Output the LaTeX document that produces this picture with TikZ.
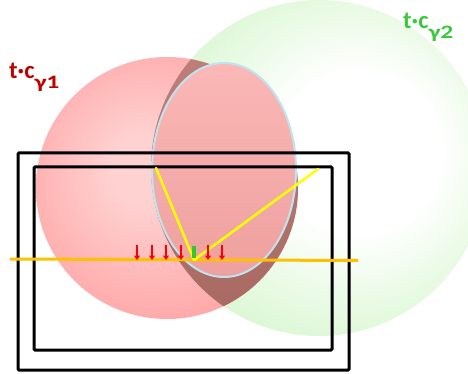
\documentclass[tikz,border=0pt]{standalone}
\usepackage{fontspec}
\usepackage{graphicx}
\setmainfont{Carlito}
\usetikzlibrary{arrows.meta}
\definecolor{redlab}{RGB}{192,0,0}
\definecolor{greenlab}{RGB}{60,200,60}
\definecolor{gedge}{RGB}{222,248,215}
\definecolor{rinner}{RGB}{255,210,210}
\definecolor{router}{RGB}{255,168,168}
\definecolor{ovtop}{RGB}{196,130,126}
\definecolor{ovbot}{RGB}{166,104,96}
\definecolor{elltop}{RGB}{250,184,182}
\definecolor{ellbot}{RGB}{238,160,158}
\definecolor{ellborder}{RGB}{190,228,240}
\definecolor{orangeline}{RGB}{255,192,0}
\definecolor{yline}{RGB}{255,255,0}
\definecolor{arrred}{RGB}{255,0,0}
\definecolor{bargreen}{RGB}{50,200,50}
\pgfdeclareradialshading{greensphere}{\pgfpoint{8bp}{3bp}}{color(0bp)=(white); color(12bp)=(white); color(27bp)=(gedge); color(50bp)=(gedge)}
\pgfdeclareradialshading{redsphere}{\pgfpoint{-5bp}{4bp}}{color(0bp)=(rinner); color(6bp)=(rinner); color(28bp)=(router); color(50bp)=(router)}
\newcommand{\labsub}[1]{\raisebox{-10pt}{\scalebox{1.35}[1]{\fontsize{19}{19}\selectfont #1}}}
\tikzset{
  frame/.style={draw=black, line width=3pt, rounded corners=1pt},
  downarrow/.style={draw=arrred, line width=2.5pt, -{Triangle[width=6pt,length=4.5pt]}},
  ray/.style={draw=yline, line width=2.5pt, line cap=round, line join=round},
  lab/.style={anchor=base west, inner sep=0pt, font=\bfseries}
}
\begin{document}
\begin{tikzpicture}[x=1pt,y=-1pt]
\useasboundingbox (0,0) rectangle (468,374);
% green sphere
\shade[shading=greensphere] (319,168) circle[radius=168pt];
% red sphere
\shade[shading=redsphere] (167,188) circle[radius=131pt];
% overlap
\begin{scope}
  \clip (167,188) circle[radius=131pt];
  \shade[top color=ovtop, bottom color=ovbot] (319,168) circle[radius=168pt];
\end{scope}
% ellipse
\shadedraw[top color=elltop, bottom color=ellbot, draw=ellborder, line width=2pt] (224,170) ellipse[x radius=72pt, y radius=107pt];
% frames
\draw[frame] (18,153) rectangle (349,370);
\draw[frame] (34,167) rectangle (332,350);
% orange line
\coordinate (oL) at (10,259);
\coordinate (oR) at (358,260.5);
\draw[draw=orangeline, line width=3pt] (oL) -- (oR);
% yellow rays
\coordinate (yA) at (156,168);
\coordinate (yB) at (194,260);
\coordinate (yC) at (318,169);
\draw[ray] (yA) -- (yB) -- (yC);
% red arrows
\foreach \x [count=\i] in {137,152,166,181,208,222}{
  \coordinate (a\i s) at (\x,245);
  \coordinate (a\i e) at (\x,260);
  \draw[downarrow] (a\i s) -- (a\i e);
}
% green bar
\fill[bargreen] (192,246) rectangle (196,258);
% labels
\node[lab, text=redlab] (l1) at (9,79) {\fontsize{24.5}{24.5}\selectfont t·c\labsub{γ1}};
\node[lab, text=greenlab] (l2) at (403,29) {\fontsize{24.5}{24.5}\selectfont t·c\labsub{γ2}};
\end{tikzpicture}
\end{document}
